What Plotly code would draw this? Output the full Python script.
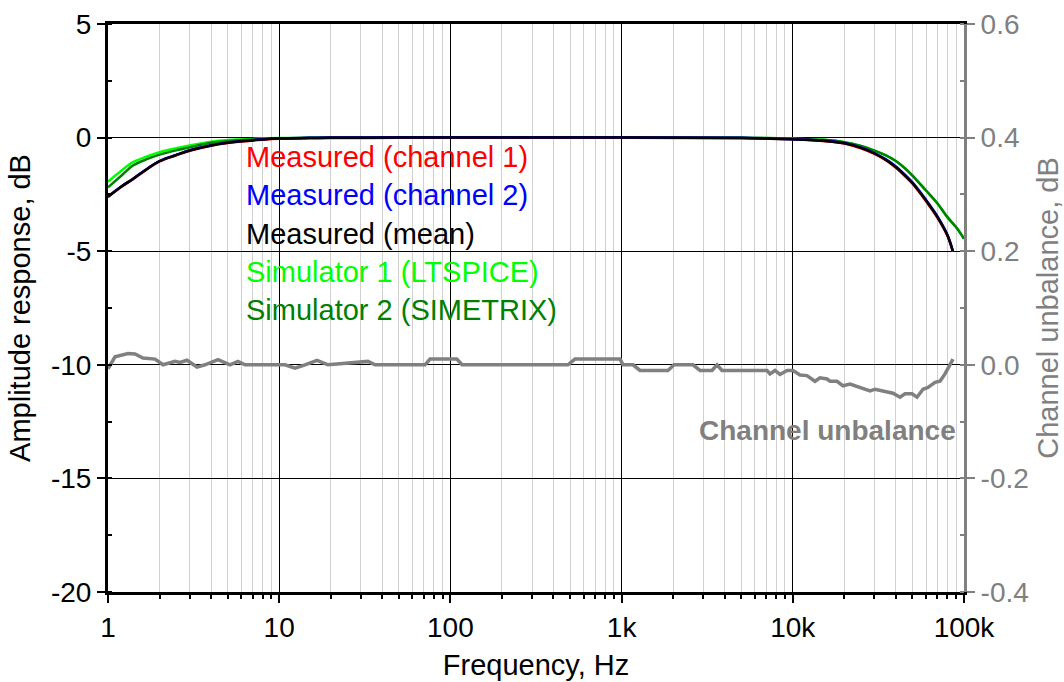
import plotly.graph_objects as go

# ---- data ----
freq_lo = [1, 1.2, 1.4, 1.7, 2, 2.5, 3, 4, 5, 6, 8, 10, 15, 20, 50, 100, 1000, 5000]
mean_lo = [-2.6, -2.15, -1.82, -1.37, -1.04, -0.77, -0.57, -0.35, -0.23, -0.16, -0.08, -0.04, -0.02, -0.01, 0, 0, 0, -0.02]
sim1_lo = [-1.94, -1.45, -1.08, -0.82, -0.64, -0.47, -0.35, -0.18, -0.11, -0.08, -0.04, -0.02, -0.01, 0, 0, 0, 0, -0.01]
sim2_lo = [-2.19, -1.67, -1.23, -0.94, -0.75, -0.56, -0.43, -0.23, -0.15, -0.11, -0.06, -0.03, -0.01, 0, 0, 0, 0, -0.01]

freq_hi_meas = [10000, 15000, 20000, 25000, 30000, 35000, 40000, 45000, 50000, 60000, 70000, 80000, 86000]
mean_hi = [-0.07, -0.14, -0.25, -0.45, -0.70, -0.98, -1.30, -1.65, -2.00, -2.77, -3.50, -4.30, -5.00]
ch1_hi = [-0.07, -0.15, -0.26, -0.47, -0.72, -1.00, -1.33, -1.68, -2.03, -2.80, -3.53, -4.32, -5.02]
ch2_hi = [-0.07, -0.13, -0.24, -0.43, -0.68, -0.96, -1.27, -1.62, -1.97, -2.74, -3.47, -4.28, -4.98]

freq_hi_sim = [10000, 15000, 20000, 25000, 30000, 35000, 40000, 45000, 50000, 60000, 70000, 80000, 90000, 100000]
sim1_hi = [-0.05, -0.10, -0.20, -0.37, -0.57, -0.78, -1.03, -1.34, -1.67, -2.33, -2.90, -3.50, -3.95, -4.45]
sim2_hi = [-0.05, -0.10, -0.20, -0.37, -0.57, -0.78, -1.03, -1.34, -1.67, -2.33, -2.90, -3.50, -3.95, -4.45]

ch1_lo = [v - 0.01 for v in mean_lo]
ch2_lo = [v + 0.01 for v in mean_lo]

unb_freq = [1, 1.099, 1.309, 1.438, 1.601, 1.882, 2.096, 2.463, 2.634, 2.893, 3.311, 3.686, 4.39, 5.16,
            5.745, 6.313, 10.81, 12.37, 14.15, 16.63, 19.28, 33.0, 36.3, 71.1, 76.0, 109, 117, 486, 534,
            979, 1019, 1166, 1281, 1866, 2024, 2613, 2871, 3373, 3608, 3858, 7069, 7362, 7870, 8420,
            9250, 10030, 11020, 12100, 13480, 14420, 15840, 16500, 18120, 19650, 21590, 23090, 24040,
            28250, 30200, 33190, 35500, 38490, 42290, 45230, 49700, 53170, 57620, 61630, 67720, 72420,
            77450, 86270]
unb_val = [-0.007, 0.014, 0.020, 0.019, 0.012, 0.010, 0.0, 0.006, 0.004, 0.008, -0.004, 0.0, 0.009, 0.0,
           0.006, 0.0, 0.0, -0.006, 0.0, 0.008, 0.0, 0.006, 0.0, 0.0, 0.010, 0.010, 0.0, 0.0, 0.010,
           0.010, 0.0, 0.0, -0.010, -0.010, 0.0, 0.0, -0.010, -0.010, 0.0, -0.010, -0.010, -0.016, -0.010,
           -0.017, -0.010, -0.010, -0.018, -0.019, -0.029, -0.023, -0.025, -0.029, -0.029, -0.037, -0.034,
           -0.037, -0.040, -0.046, -0.043, -0.046, -0.049, -0.050, -0.057, -0.051, -0.051, -0.057, -0.043,
           -0.040, -0.031, -0.029, -0.016, 0.010]

x_tickvals = [1, 10, 100, 1000, 10000, 100000]
x_ticktext = ["1", "10", "100", "1k", "10k", "100k"]
y_tickvals = [5, 0, -5, -10, -15, -20]
y_ticktext = ["5", "0", "-5", "-10", "-15", "-20"]
y2_tickvals = [0.6, 0.4, 0.2, 0.0, -0.2, -0.4]
y2_ticktext = ["0.6", "0.4", "0.2", "0.0", "-0.2", "-0.4"]

legend_labels = ["Measured (channel 1)", "Measured (channel 2)", "Measured (mean)",
                 "Simulator 1 (LTSPICE)", "Simulator 2 (SIMETRIX)"]
legend_colors = ["#ff0000", "#0000ff", "#000000", "#00ff00", "#008000"]

FONT = "Liberation Sans, Arial, sans-serif"
GRAY = "#808080"

fig = go.Figure()

def add_curve(xs, ys, color):
    fig.add_trace(go.Scatter(x=xs, y=ys, mode="lines", line=dict(color=color, width=2.5, shape="spline"),
                             showlegend=False, hoverinfo="skip"))

# unbalance (right axis)
fig.add_trace(go.Scatter(x=unb_freq, y=unb_val, yaxis="y2", mode="lines",
                         line=dict(color=GRAY, width=3.5),
                         showlegend=False, hoverinfo="skip"))

add_curve(freq_lo + freq_hi_sim, sim1_lo + sim1_hi, legend_colors[3])
add_curve(freq_lo + freq_hi_sim, sim2_lo + sim2_hi, legend_colors[4])
add_curve(freq_lo + freq_hi_meas, ch1_lo + ch1_hi, legend_colors[0])
add_curve(freq_lo + freq_hi_meas, ch2_lo + ch2_hi, legend_colors[1])
add_curve(freq_lo + freq_hi_meas, mean_lo + mean_hi, legend_colors[2])

for i, (lab, col) in enumerate(zip(legend_labels, legend_colors)):
    fig.add_annotation(xref="paper", yref="paper", x=0.159, y=0.7658 - i * 0.0675,
                       text=lab, showarrow=False, xanchor="left", yanchor="middle",
                       font=dict(family=FONT, size=29, color=col))

fig.add_annotation(xref="paper", yref="paper", x=0.993, y=0.285, text="<b>Channel unbalance</b>",
                   showarrow=False, xanchor="right", yanchor="middle",
                   font=dict(family=FONT, size=28, color=GRAY))

fig.update_layout(
    width=1064, height=682,
    margin=dict(l=108, r=100, t=24, b=90),
    paper_bgcolor="white", plot_bgcolor="white",
    font=dict(family=FONT, size=28, color="black"),
    xaxis=dict(type="log", range=[0, 5], tickvals=x_tickvals, ticktext=x_ticktext, automargin=False,
               showline=True, linecolor="black", linewidth=3, mirror=True,
               ticks="outside", ticklen=8, tickwidth=2, tickcolor="black",
               showgrid=True, gridcolor="black", gridwidth=1,
               minor=dict(dtick="D1", ticks="outside", ticklen=4, tickwidth=2, tickcolor="black",
                          showgrid=True, gridcolor="#d0d0d0", gridwidth=1),
               title=dict(text="Frequency, Hz", font=dict(size=29), standoff=14),
               tickfont=dict(size=28), zeroline=False),
    yaxis=dict(range=[-20, 5], tickvals=y_tickvals, ticktext=y_ticktext, automargin=False,
               showline=True, linecolor="black", linewidth=3,
               ticks="outside", ticklen=8, tickwidth=2, tickcolor="black",
               minor=dict(dtick=2.5, ticks="inside", ticklen=4, tickwidth=2, tickcolor="black", showgrid=False),
               showgrid=True, gridcolor="black", gridwidth=1, zeroline=False,
               title=dict(text="Amplitude response, dB", font=dict(size=29), standoff=12),
               tickfont=dict(size=28)),
    yaxis2=dict(range=[-0.4, 0.6], tickvals=y2_tickvals, ticktext=y2_ticktext, automargin=False,
                overlaying="y", side="right",
                showline=True, linecolor=GRAY, linewidth=3,
                ticks="outside", ticklen=8, tickwidth=2, tickcolor=GRAY,
                minor=dict(dtick=0.1, ticks="inside", ticklen=4, tickwidth=2, tickcolor=GRAY, showgrid=False),
                showgrid=False, zeroline=False,
                title=dict(text="Channel unbalance, dB", font=dict(size=29, color=GRAY), standoff=10),
                tickfont=dict(size=28, color=GRAY)),
)

fig.write_html("out.html")
